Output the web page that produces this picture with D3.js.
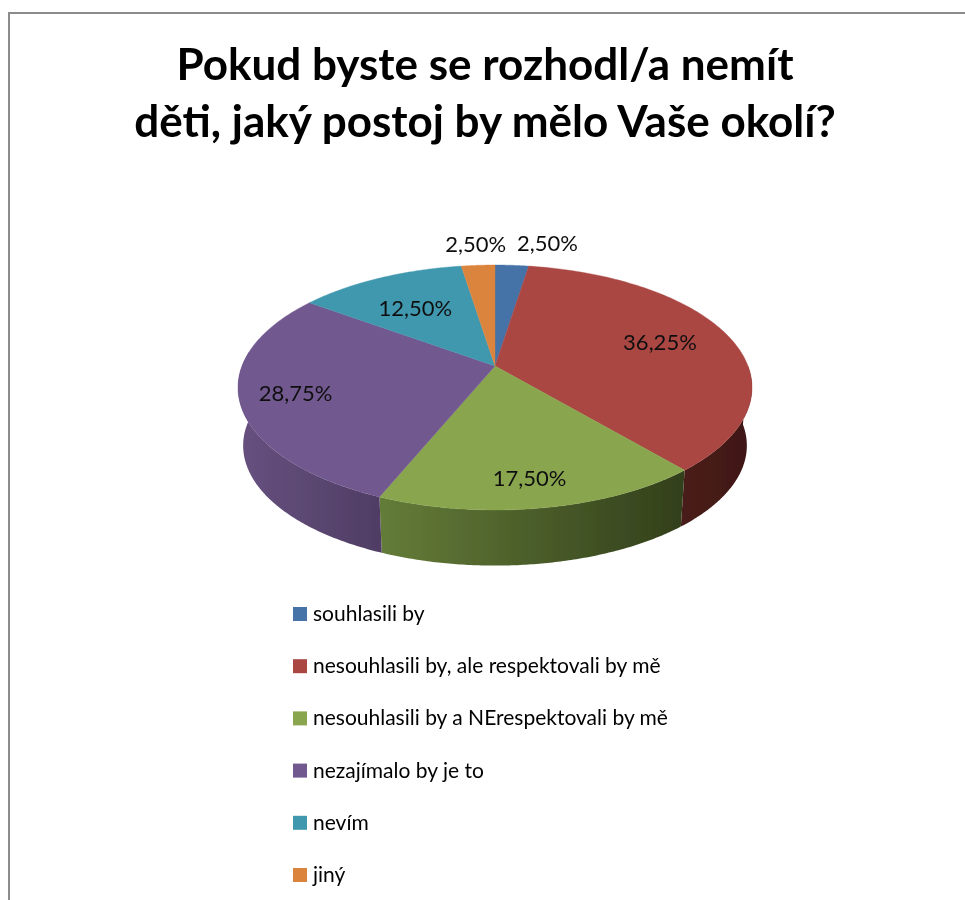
<!DOCTYPE html>
<html><head><meta charset="utf-8">
<script src="https://cdn.jsdelivr.net/npm/d3@7"></script>
<style>html,body{margin:0;padding:0;background:#fff}svg{display:block}</style>
</head><body><svg id="c" width="965" height="900"></svg>
<script>
const titleLines = ["Pokud byste se rozhodl/a nemít", "děti, jaký postoj by mělo Vaše okolí?"];
const categories = ["souhlasili by", "nesouhlasili by, ale respektovali by mě", "nesouhlasili by a NErespektovali by mě", "nezajímalo by je to", "nevím", "jiný"];
const values = [2.5, 36.25, 17.5, 28.75, 12.5, 2.5];
const labels = ["2,50%", "36,25%", "17,50%", "28,75%", "12,50%", "2,50%"];
const colors = ["#4572a7", "#aa4643", "#89a54e", "#71588f", "#4198af", "#db843d"];
const sideLight = ["#3a5f8c", "#4a1c1a", "#647c38", "#67517f", "#35798c", "#a8622c"];
const sideDark = ["#2a4566", "#3f1816", "#323f1b", "#4f3d64", "#2a6070", "#80491f"];
const labelRadius = [1.25, 0.7, 0.7, 0.7, 0.7, 1.25];
const labelNudgeX = [32, 0, 3, -23, 4, 1];
const labelNudgeY = [-2, -2, 19, 4, 6, -1];

const svg = d3.select("#c");
const W = 965, H = 900;
const cx = 495, cy = 366, R = 253, Ry = 118.7, k = 0.1756;
const depth = 58.5, baseScale = 0.98;

function project(a, r = 1) {
  const u = r * Math.sin(a), v = -r * Math.cos(a), s = 1 / (1 - k * v);
  return [cx + R * u * s, cy + Ry * v * s];
}
function projectBase(a) {
  const [x, y] = project(a);
  return [cx + (x - cx) * baseScale, cy + depth + (y - cy) * baseScale];
}
const arcs = d3.pie().sort(null).value(d => d).startAngle(0).endAngle(2 * Math.PI)(values);
const line = d3.line();
const sample = (a0, a1) => d3.range(0, 121).map(i => a0 + (a1 - a0) * i / 120);

const defs = svg.append("defs");
defs.append("filter").attr("id", "soft").attr("x", "-2%").attr("y", "-2%").attr("width", "104%").attr("height", "104%")
  .append("feGaussianBlur").attr("stdDeviation", 0.55);

const root = svg.append("g").attr("filter", "url(#soft)");

// frame
root.append("path").attr("d", line([[9, H], [9, 13], [W, 13]])).attr("fill", "none").attr("stroke", "#8c8c8c").attr("stroke-width", 2);

// title
root.append("g").selectAll("text").data(titleLines).join("text")
  .attr("x", 485).attr("y", (d, i) => 80 + i * 57)
  .attr("text-anchor", "middle").attr("font-family", "Lato").attr("font-weight", 700)
  .attr("font-size", 44).attr("fill", "#000").text(d => d);

// visible side walls: only angles on the near half of the rim
const rimStart = Math.PI / 2 + 0.0, rimEnd = 3 * Math.PI / 2 + 0.0;
arcs.forEach((d, i) => {
  const a0 = Math.max(d.startAngle, rimStart), a1 = Math.min(d.endAngle, rimEnd + 0.12);
  if (a1 <= a0) return;
  const top = sample(a0, a1).map(a => project(a));
  const bot = sample(a1, a0).map(a => projectBase(a));
  const gid = "side" + i;
  const xs = top.concat(bot).map(p => p[0]);
  const g = defs.append("linearGradient").attr("id", gid).attr("gradientUnits", "userSpaceOnUse")
    .attr("x1", d3.min(xs)).attr("x2", d3.max(xs)).attr("y1", 0).attr("y2", 0);
  g.append("stop").attr("offset", 0).attr("stop-color", sideLight[i]);
  g.append("stop").attr("offset", 1).attr("stop-color", sideDark[i]);
  root.append("path").attr("d", line(top.concat(bot)) + "Z").attr("fill", `url(#${gid})`);
});

// top faces
root.append("g").selectAll("path").data(arcs).join("path")
  .attr("d", d => line([[cx, cy]].concat(sample(d.startAngle, d.endAngle).map(a => project(a)))) + "Z")
  .attr("fill", (d, i) => colors[i]).attr("stroke", (d, i) => colors[i]).attr("stroke-width", 0.4);

// data labels
root.append("g").selectAll("text").data(arcs).join("text")
  .attr("x", (d, i) => project((d.startAngle + d.endAngle) / 2, labelRadius[i])[0] + labelNudgeX[i])
  .attr("y", (d, i) => project((d.startAngle + d.endAngle) / 2, labelRadius[i])[1] + labelNudgeY[i] + 8)
  .attr("text-anchor", "middle").attr("font-family", "Lato").attr("font-size", 22).attr("fill", "#111")
  .text((d, i) => labels[i]);

// legend
const legendY = d3.scalePoint().domain(categories).range([614, 875]);
const leg = root.append("g").selectAll("g").data(categories).join("g")
  .attr("transform", d => `translate(293,${legendY(d)})`);
leg.append("rect").attr("x", 0).attr("y", -7).attr("width", 14).attr("height", 14).attr("fill", (d, i) => colors[i]);
leg.append("text").attr("x", 20).attr("y", 7).attr("font-family", "Lato").attr("font-size", 21).attr("fill", "#000").text(d => d);
</script></body></html>
